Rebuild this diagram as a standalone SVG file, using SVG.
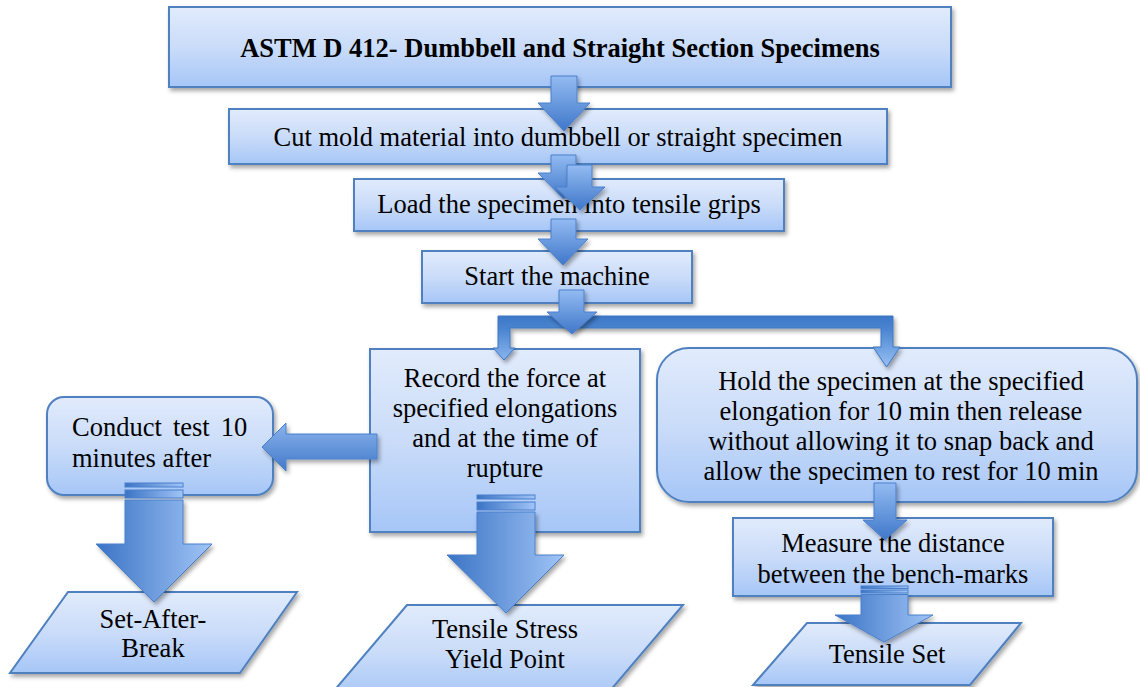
<svg xmlns="http://www.w3.org/2000/svg" width="1140" height="687" viewBox="0 0 1140 687">
<defs>
  <linearGradient id="boxG" x1="0" y1="0" x2="0" y2="1">
    <stop offset="0" stop-color="#e1ebfc"/>
    <stop offset="0.5" stop-color="#cadcf9"/>
    <stop offset="1" stop-color="#a6c6f7"/>
  </linearGradient>
  <linearGradient id="arrV" x1="0" y1="0" x2="0" y2="1">
    <stop offset="0" stop-color="#93bbf2"/>
    <stop offset="1" stop-color="#3f77c9"/>
  </linearGradient>
  <linearGradient id="arrH" x1="0" y1="0" x2="1" y2="0">
    <stop offset="0" stop-color="#3b74c5"/>
    <stop offset="1" stop-color="#a0c4f6"/>
  </linearGradient>
  <linearGradient id="arrL" x1="0" y1="0" x2="0" y2="1">
    <stop offset="0" stop-color="#8ab3ed"/>
    <stop offset="1" stop-color="#4279c9"/>
  </linearGradient>
  <linearGradient id="elbG" gradientUnits="userSpaceOnUse" x1="0" y1="316" x2="0" y2="367">
    <stop offset="0" stop-color="#3c78c7"/>
    <stop offset="0.25" stop-color="#4a84d0"/>
    <stop offset="1" stop-color="#98c0f4"/>
  </linearGradient>
  <filter id="sh" x="-10%" y="-10%" width="125%" height="130%">
    <feDropShadow dx="2" dy="3" stdDeviation="2" flood-color="#000" flood-opacity="0.35"/>
  </filter>
  <clipPath id="holdClip"><rect x="650" y="340" width="490" height="144"/></clipPath>
</defs>
<style>
  .box { fill: url(#boxG); stroke: #4f80c0; stroke-width: 2; filter: url(#sh); }
  .t { font-family: "Liberation Serif", "Times New Roman", serif; font-size: 26.5px; fill: #000; text-anchor: middle; }
  .tb { font-weight: bold; }
  .arr { fill: url(#arrV); stroke: #4a80cc; stroke-width: 1; filter: url(#sh); }
  .big { fill: url(#arrH); stroke: #4a80cc; stroke-width: 1; filter: url(#sh); }
  .stripe { fill: url(#arrH); stroke: #4a80cc; stroke-width: 1; }
  .larr { fill: url(#arrL); stroke: #4a80cc; stroke-width: 1; filter: url(#sh); }
  .elb { fill: url(#elbG); stroke: #3f76c2; stroke-width: 1; filter: url(#sh); }
</style>

<g id="n-title">
  <rect class="box" x="169" y="7" width="782" height="80"/>
  <text class="t tb" x="560" y="57">ASTM D 412- Dumbbell and Straight Section Specimens</text>
</g>
<g id="n-cut">
  <rect class="box" x="229" y="109" width="658" height="55"/>
  <text class="t" x="558" y="146">Cut mold material into dumbbell or straight specimen</text>
</g>
<g id="n-load">
  <rect class="box" x="354" y="179" width="430" height="52"/>
  <text class="t" x="569" y="213">Load the specimen into tensile grips</text>
</g>
<g id="n-start">
  <rect class="box" x="422" y="251" width="270" height="52"/>
  <text class="t" x="557" y="285">Start the machine</text>
</g>
<g id="n-record">
  <rect class="box" x="370" y="349" width="270" height="183"/>
  <text class="t" x="505" y="387">Record the force at</text>
  <text class="t" x="505" y="417">specified elongations</text>
  <text class="t" x="505" y="447">and at the time of</text>
  <text class="t" x="505" y="477">rupture</text>
</g>
<g id="n-hold">
  <rect class="box" x="657" y="348" width="480" height="154" rx="32" ry="32"/>
  <g clip-path="url(#holdClip)">
    <text class="t" x="901" y="390">Hold the specimen at the specified</text>
    <text class="t" x="901" y="420">elongation for 10 min then release</text>
    <text class="t" x="901" y="450">without allowing it to snap back and</text>
    <text class="t" x="901" y="480">allow the specimen to rest for 10 min</text>
  </g>
</g>
<g id="n-conduct">
  <rect class="box" x="47" y="397" width="226" height="98" rx="17" ry="17"/>
  <text class="t" x="72" y="436" style="text-anchor:start;word-spacing:4.5px">Conduct test 10</text>
  <text class="t" x="72" y="467" style="text-anchor:start">minutes after</text>
</g>
<g id="n-measure">
  <rect class="box" x="733" y="518" width="320" height="78"/>
  <text class="t" x="893" y="552">Measure the distance</text>
  <text class="t" x="893" y="583">between the bench-marks</text>
</g>
<g id="n-setafter">
  <polygon class="box" points="68,592 297,592 240,673 10,673"/>
  <text class="t" x="153" y="628">Set-After-</text>
  <text class="t" x="153" y="657">Break</text>
</g>
<g id="n-stress">
  <polygon class="box" points="407,605 683,605 603,699 327,699"/>
  <text class="t" x="505" y="638">Tensile Stress</text>
  <text class="t" x="505" y="668">Yield Point</text>
</g>
<g id="n-tset">
  <polygon class="box" points="807,623 1021,623 970,685 753,685"/>
  <text class="t" x="887" y="663">Tensile Set</text>
</g>

<g id="connectors">
  <!-- title -> cut -->
  <path class="arr" d="M551,76 H577 V103 H590 L564,131 L538,103 H551 Z"/>
  <!-- cut -> load (two overlapping) -->
  <path class="arr" d="M551,155 H576 V173 H588 L563.5,199 L538,173 H551 Z"/>
  <path class="arr" d="M567,165 H592 V187 H605 L580,210 L555,187 H567 Z"/>
  <!-- load -> start -->
  <path class="arr" d="M551,219 H576 V239 H588 L563,265 L538,239 H551 Z"/>
  <!-- split elbow -->
  <path class="elb" d="M498,316 H893 V347 H900 L886.5,367 L873,347 H881 V328 H510 V348 H515 L504,360 L493,348 H498 Z"/>
  <!-- start -> split -->
  <path class="arr" d="M559,290 H584 V312 H597 L572,334 L547,312 H559 Z"/>
  <!-- record -> conduct -->
  <path class="larr" d="M377,434 V459 H286 V471 L262,447 L286,423 V434 Z"/>
  <!-- hold -> measure -->
  <path class="arr" d="M874,483 H896 V520 H907 L885,540 L863,520 H874 Z"/>
  <!-- conduct -> set-after-break -->
  <rect class="stripe" x="125" y="483" width="58" height="4"/>
  <rect class="stripe" x="125" y="490" width="58" height="8"/>
  <path class="big" d="M125,500 H183 V544 H212 L154,602 L96,544 H125 Z"/>
  <!-- record -> tensile stress -->
  <rect class="stripe" x="477" y="495" width="58" height="4"/>
  <rect class="stripe" x="477" y="502" width="58" height="8"/>
  <path class="big" d="M477,512 H535 V555 H564 L506,613 L447,555 H477 Z"/>
  <!-- measure -> tensile set -->
  <rect class="stripe" x="861" y="586" width="47" height="2.5"/>
  <rect class="stripe" x="861" y="590" width="47" height="3"/>
  <path class="big" d="M861,594.5 H908 V615 H933 L884,642 L835,615 H861 Z"/>
</g>
</svg>
